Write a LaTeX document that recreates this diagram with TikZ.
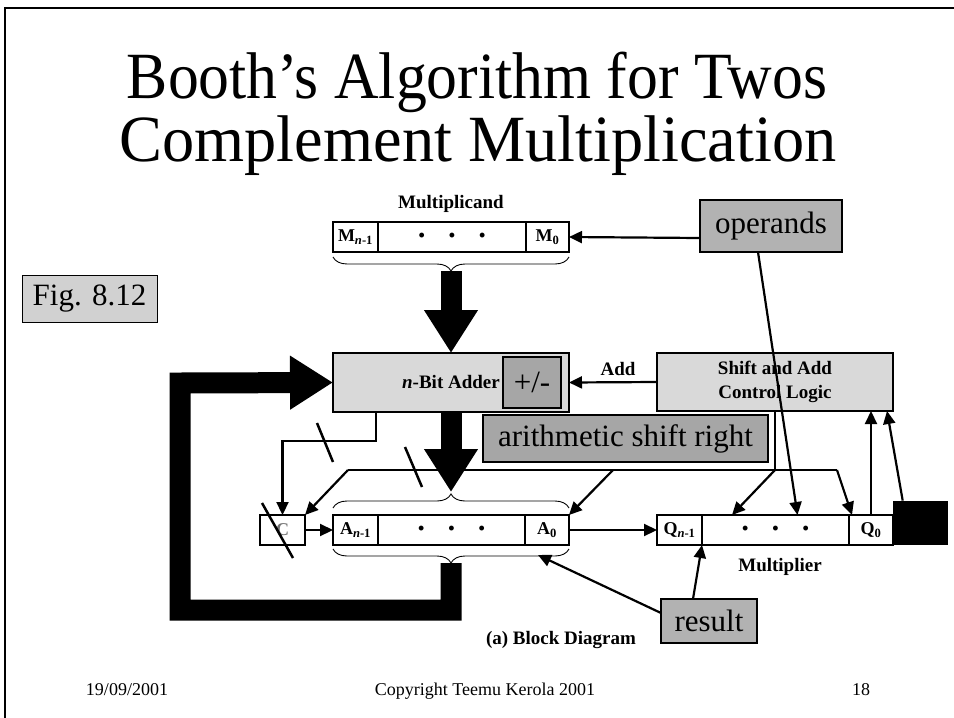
\documentclass[tikz,border=0pt]{standalone}
\usepackage{fontspec}
\setmainfont{Liberation Serif}
\usetikzlibrary{arrows.meta,decorations.pathreplacing,positioning}

\begin{document}
\begin{tikzpicture}[x=1pt,y=-1pt,
    cell/.style={draw,line width=1.2pt,inner sep=0pt,outer sep=0pt,minimum height=30,font=\fontsize{18}{18}\selectfont\bfseries},
    unit/.style={draw,line width=1.2pt,fill=black!15,inner sep=0pt,outer sep=0pt,anchor=north west},
    tag/.style={draw,line width=2.5pt,fill=black!30,inner sep=0pt,outer sep=0pt,font=\fontsize{31}{31}\selectfont},
    lbl/.style={font=\fontsize{19}{24}\selectfont\bfseries},
    wire/.style={line width=2.2pt,-{Triangle[length=13pt,width=12pt]}},
    fat/.style={line width=21pt,-{Triangle[length=43pt,width=51pt]}},
    brc/.style={decorate,decoration={brace,amplitude=14pt},line width=0.9pt},
    slash/.style={line width=2.5pt}]
    \useasboundingbox (0,0) rectangle (954,718);
    \draw[line width=2pt] (954,8) -- (5,8) -- (5,718);

    % title and footer
    \node[anchor=base,xscale=0.935,font=\fontsize{66}{66}\selectfont] (title1) at (477,98) {Booth’s Algorithm for Twos};
    \node[anchor=base,xscale=0.975,font=\fontsize{66}{66}\selectfont] (title2) at (478,161) {Complement Multiplication};
    \node[anchor=base,font=\fontsize{18}{18}\selectfont] (date) at (127,695) {19/09/2001};
    \node[anchor=base,font=\fontsize{18}{18}\selectfont] (copy) at (485,695) {Copyright Teemu Kerola 2001};
    \node[anchor=base,font=\fontsize{18}{18}\selectfont] (page) at (861,695) {18};

    \node[draw,line width=1pt,fill=black!18,minimum width=135,minimum height=47,font=\fontsize{31}{31}\selectfont] (fig) at (89.5,298.5) {Fig. 8.12};

    % multiplicand register
    \node[lbl] (mlabel) at (451,204) {Multiplicand};
    \node[cell,minimum width=45,anchor=north west] (mn) at (333,222) {M\textsubscript{\textit{n}-1}};
    \node[cell,minimum width=148,right=0pt of mn] (md) {\textbullet\hspace{24pt}\textbullet\hspace{24pt}\textbullet};
    \node[cell,minimum width=43,right=0pt of md] (m0) {M\textsubscript{0}};
    \draw[brc] (569,257) -- (333,257);
    \coordinate (mtip) at (451,271);

    % adder and control
    \node[unit,minimum width=236,minimum height=59] (adder) at (333,353) {};
    \node[lbl] (addtxt) at (451,382) {\textit{n}-Bit Adder};
    \node[draw,line width=1.2pt,fill=black!35,minimum width=58,minimum height=51,font=\fontsize{31}{31}\selectfont] (pm) at (532,382.5) {+/-};
    \node[unit,minimum width=236,minimum height=58,lbl,align=center] (ctrl) at (657,353) {Shift and Add\\Control Logic};
    \node[lbl] (addlbl) at (618,369) {Add};

    % A and Q registers
    \node[cell,minimum width=45,anchor=north west,text=black!55] (c) at (260,515) {C};
    \node[cell,minimum width=45,anchor=north west] (an) at (333,515) {A\textsubscript{\textit{n}-1}};
    \node[cell,minimum width=147,right=0pt of an] (ad) {\textbullet\hspace{24pt}\textbullet\hspace{24pt}\textbullet};
    \node[cell,minimum width=44,right=0pt of ad] (a0) {A\textsubscript{0}};
    \draw[brc] (333,508) -- (569,508);
    \draw[brc] (569,549) -- (333,549);
    \coordinate (atop) at (451,492);
    \coordinate (abot) at (451,563);
    \node[cell,minimum width=45,anchor=north west] (qn) at (657,515) {Q\textsubscript{\textit{n}-1}};
    \node[cell,minimum width=147,right=0pt of qn] (qd) {\textbullet\hspace{24pt}\textbullet\hspace{24pt}\textbullet};
    \node[cell,minimum width=44,right=0pt of qd] (q0) {Q\textsubscript{0}};
    \node[lbl] (qlabel) at (780,567) {Multiplier};
    \node[fill=black,inner sep=0pt,minimum width=55,minimum height=44,anchor=south west] (sq) at (893,545) {};
    \node[lbl] (cap) at (561,640) {(a) Block Diagram};

    % data paths
    \draw[fat] (mtip) -- (adder.north);
    \draw[fat] (adder.south) -- (atop);
    \draw[fat,line join=miter] (abot) -- (451,610) -- (180,610) -- (180,383) -- (adder.west);

    \draw[wire] ([xshift=43pt]adder.south west) -- ++(0,29) -| (c.north);
    \draw[wire] (ctrl.west) -- (adder.east);
    \draw[wire] (c.east) -- (an.west);
    \draw[wire] (a0.east) -- (qn.west);

    \coordinate (busL) at (348,470);
    \coordinate (busA) at (613,470);
    \coordinate (busR) at (837,470);
    \draw[line width=2.2pt] (ctrl.south) -- (ctrl.south |- busL);
    \draw[line width=2.2pt] (busL) -- (busR);
    \draw[wire] (busL) -- (c.north east);
    \draw[wire] (busA) -- (a0.north east);
    \draw[wire] (ctrl.south |- busL) -- ([xshift=30pt]qd.north west);
    \draw[wire] (busR) -- ([xshift=3pt]q0.north west);
    \draw[wire] (q0.north) -- (q0.north |- ctrl.south);
    \draw[wire] ([xshift=-18pt]sq.north) -- ([xshift=-6pt]ctrl.south east);

    \draw[slash] (317,423) -- (333,462);
    \draw[slash] (405,447) -- (422,487);
    \draw[slash] (262,503) -- (293,558);

    % callouts
    \node[tag,fill=black!35,minimum width=285,minimum height=47,anchor=north west,line width=1.2pt] (asr) at (483,415) {arithmetic shift right};
    \node[tag,minimum width=142,minimum height=52,anchor=north west] (ops) at (700,200) {operands};
    \node[tag,minimum width=96,minimum height=44,anchor=north west] (res) at (661,599) {result};
    \draw[wire] ([yshift=-12pt]ops.west) -- (m0.east);
    \draw[wire] ([xshift=-13pt]ops.south) -- ([xshift=22pt]qd.north);
    \draw[wire] ([xshift=-16pt]res.north) -- (qn.south east);
    \coordinate (a0bot) at (538,555);
    \draw[wire] ([yshift=8pt]res.west) -- (a0bot);
\end{tikzpicture}
\end{document}
